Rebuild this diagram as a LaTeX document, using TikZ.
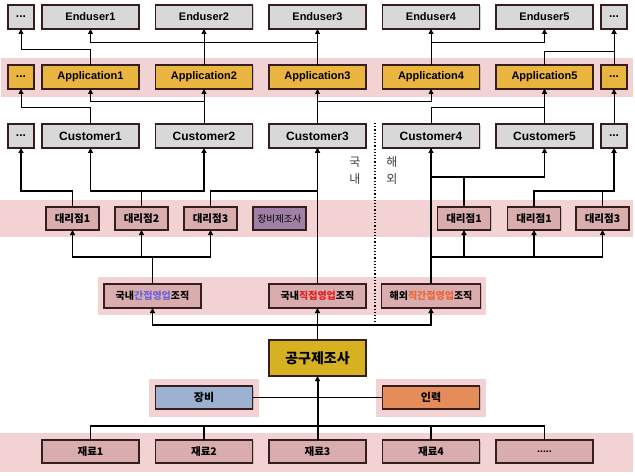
\documentclass[tikz,border=0pt]{standalone}
\usepackage{fontspec}
\setmainfont{Liberation Sans}
\newfontfamily\krfont{Noto Sans CJK KR}
\usepackage{tikz}
\usetikzlibrary{arrows.meta, positioning, shadows}

\definecolor{greybox}{RGB}{216,216,216}
\definecolor{appfill}{RGB}{234,180,64}
\definecolor{pinkbox}{RGB}{217,172,174}
\definecolor{pinkband}{RGB}{243,210,212}
\definecolor{edge}{RGB}{55,30,30}
\definecolor{toolfill}{RGB}{214,178,34}
\definecolor{equipfill}{RGB}{156,178,208}
\definecolor{laborfill}{RGB}{228,140,90}
\definecolor{makerfill}{RGB}{160,128,166}
\definecolor{indirect}{RGB}{110,100,220}
\definecolor{direct}{RGB}{228,30,30}
\definecolor{overseas}{RGB}{240,100,50}

\begin{document}
\begin{tikzpicture}[x=1pt, y=1pt,
  node distance=16.5pt,
  box/.style={rectangle, draw=edge, line width=1.2pt, fill=greybox, outer sep=0pt, inner sep=0pt,
              minimum width=97pt, minimum height=24pt, font=\bfseries\fontsize{11}{12}\selectfont,
              drop shadow={shadow xshift=1pt, shadow yshift=-1pt, opacity=0.35}},
  dotbox/.style={box, minimum width=26pt, font=\bfseries\fontsize{12}{12}\selectfont},
  app/.style={box, fill=appfill},
  kbox/.style={box, fill=pinkbox, font=\krfont\bfseries\fontsize{10.5}{12}\selectfont},
  dealer/.style={kbox, minimum width=53pt, minimum height=23pt},
  arrow/.style={-{Triangle[length=5pt, width=5pt]}, line width=1pt},
  arrowb/.style={arrow, line width=1.5pt},
  linkb/.style={line width=1.5pt},
]
  \useasboundingbox[fill=white] (0,0) rectangle (635,-476);

  % pink bands
  \fill[pinkband] (1,-58) rectangle (633,-97);
  \fill[pinkband] (0,-200) rectangle (633,-237);
  \fill[pinkband] (98,-277) rectangle (486,-315);
  \fill[pinkband] (149,-379) rectangle (259,-417);
  \fill[pinkband] (376,-379) rectangle (486,-417);
  \fill[pinkband] (0,-433) rectangle (633,-472);

  % endusers
  \node[dotbox] (e0) at (21,-17) {...};
  \node[box, right=8pt of e0] (e1) {Enduser1};
  \node[box, right=of e1] (e2) {Enduser2};
  \node[box, right=of e2] (e3) {Enduser3};
  \node[box, right=of e3] (e4) {Enduser4};
  \node[box, right=of e4] (e5) {Enduser5};
  \node[dotbox, right=8pt of e5] (e6) {...};

  % applications
  \node[dotbox, fill=appfill, below=36pt of e0] (a0) {...};
  \node[app, below=36pt of e1] (a1) {Application1};
  \node[app, below=36pt of e2] (a2) {Application2};
  \node[app, below=36pt of e3] (a3) {Application3};
  \node[app, below=36pt of e4] (a4) {Application4};
  \node[app, below=36pt of e5] (a5) {Application5};
  \node[dotbox, fill=appfill, below=36pt of e6] (a6) {...};

  % customers
  \node[dotbox, below=35pt of a0] (c0) {...};
  \node[box, below=35pt of a1, font=\bfseries\fontsize{12}{13}\selectfont] (c1) {Customer1};
  \node[box, below=35pt of a2, font=\bfseries\fontsize{12}{13}\selectfont] (c2) {Customer2};
  \node[box, below=35pt of a3, font=\bfseries\fontsize{12}{13}\selectfont] (c3) {Customer3};
  \node[box, below=35pt of a4, font=\bfseries\fontsize{12}{13}\selectfont] (c4) {Customer4};
  \node[box, below=35pt of a5, font=\bfseries\fontsize{12}{13}\selectfont] (c5) {Customer5};
  \node[dotbox, below=35pt of a6] (c6) {...};

  % dealers
  \node[dealer] (l1) at (72.5,-218.5) {대리점1};
  \node[dealer] (l2) at (141.5,-218.5) {대리점2};
  \node[dealer] (l3) at (210.5,-218.5) {대리점3};
  \node[dealer, fill=makerfill, font=\krfont\fontsize{9.5}{11}\selectfont] (mk) at (279.5,-218.5) {장비제조사};
  \node[dealer] (r1) at (464,-218.5) {대리점1};
  \node[dealer] (r2) at (534,-218.5) {대리점1};
  \node[dealer] (r3) at (602.5,-218.5) {대리점3};

  % sales organisations
  \node[kbox, font=\krfont\bfseries\fontsize{10}{12}\selectfont] (og1) at (152.5,-296) {국내\textcolor{indirect}{간접영업}조직};
  \node[kbox, font=\krfont\bfseries\fontsize{10}{12}\selectfont] (og2) at (317.5,-296) {국내\textcolor{direct}{직접영업}조직};
  \node[kbox, font=\krfont\bfseries\fontsize{10}{12}\selectfont, minimum width=99pt] (og3) at (431,-296) {해외\textcolor{overseas}{직간접영업}조직};

  % manufacturer and inputs
  \node[kbox, fill=toolfill, minimum height=36pt, font=\krfont\bfseries\fontsize{14}{16}\selectfont] (gj) at (317.5,-358) {공구제조사};
  \node[kbox, fill=equipfill, minimum height=23pt, font=\krfont\bfseries\fontsize{11}{12}\selectfont] (eq) at (204,-397.5) {장비};
  \node[kbox, fill=laborfill, minimum height=23pt, font=\krfont\bfseries\fontsize{11}{12}\selectfont] (lb) at (431,-397.5) {인력};

  \node[kbox, minimum height=23pt] (m1) at (90.5,-451.5) {재료1};
  \node[kbox, minimum height=23pt, right=of m1] (m2) {재료2};
  \node[kbox, minimum height=23pt, right=of m2] (m3) {재료3};
  \node[kbox, minimum height=23pt, right=of m3] (m4) {재료4};
  \node[kbox, minimum height=23pt, right=of m4, font=\bfseries\fontsize{10.5}{12}\selectfont] (m5) {.....};

  % domestic / overseas
  \draw[dotted, line width=1.2pt] (375,-123) -- (375,-322);
  \node[font=\krfont\fontsize{12}{17}\selectfont, align=center, text=black!75] (dom) at (355,-171) {국\\내};
  \node[font=\krfont\fontsize{12}{17}\selectfont, align=center, text=black!75] (abr) at (392,-171) {해\\외};

  % applications -> endusers
  \draw[arrow] (a2) -- (e2);
  \draw[arrow] (a3) -- (e3);
  \draw[arrow] (a3.north) -- ++(0,22) -| (e1.south);
  \draw[arrow] (a1.north) -- ++(0,15) -| (e0.south);
  \draw[arrow] (a4) -- (e4);
  \draw[arrow] (a4.north) -- ++(0,22) -| (e5.south);
  \draw[arrow] (a6) -- (e6);
  \draw[arrow] (a5.north) -- ++(0,13) -| (e6.south);

  % customers -> applications
  \draw[arrow] (c2) -- (a2);
  \draw[arrow] (c2.north) -- ++(0,22) -| (a1.south);
  \draw[arrow] (c1.north) -- ++(0,16) -| (a0.south);
  \draw[arrow] (c3) -- (a3);
  \draw[arrow] (c3.north) -- ++(0,22) -| (a4.south);
  \draw[arrow] (c5) -- (a5);
  \draw[arrow] (c4.north) -- ++(0,16) -| (a5.south);
  \draw[arrow] (c6) -- (a6);

  % dealers and organisations -> customers
  \draw[arrowb] (l1.north) -- ++(0,16) -| (c0.south);
  \draw[arrowb] (l2.north) -- ++(0,16) -| (c1.south);
  \draw[arrowb] (l2.north) -- ++(0,16) -| (c2.south);
  \draw[arrowb] (l3.north) -- ++(0,16) -| (c3.south);
  \draw[arrowb] (og2) -- (c3);
  \draw[arrowb] (og3) -- (c4);
  \draw[arrowb] (r1.north) -- ++(0,30) -| (c5.south);
  \draw[linkb] (r1.north) -- ++(0,30) -| (c4.south);
  \draw[arrowb] (r2.north) -- ++(0,16) -| (c6.south);
  \draw[arrowb] (r3.north) -- ++(0,16) -| (c6.south);

  % organisations -> dealers
  \draw[arrowb] (og1.north) -- ++(0,27) -| (l1.south);
  \draw[arrowb] (og1.north) -- ++(0,27) -| (l2.south);
  \draw[arrowb] (og1.north) -- ++(0,27) -| (l3.south);
  \draw[arrowb] (og3.north) -- ++(0,27) -| (r1.south);
  \draw[arrowb] (og3.north) -- ++(0,27) -| (r2.south);
  \draw[arrowb] (og3.north) -- ++(0,27) -| (r3.south);

  % manufacturer -> organisations
  \draw[arrowb] (gj) -- (og2);
  \draw[arrowb] (gj.north) -- ++(0,15) -| (og1.south);
  \draw[arrowb] (gj.north) -- ++(0,15) -| (og3.south);

  % inputs -> manufacturer
  \draw[arrowb, line width=2pt] (m3) -- (gj);
  \draw[linkb] (eq) -- (lb);
  \draw[linkb] (m1.north) -- ++(0,14) -| (m5.north);
  \draw[linkb] (m2.north) -- ++(0,14);
  \draw[linkb] (m4.north) -- ++(0,14);
\end{tikzpicture}
\end{document}
